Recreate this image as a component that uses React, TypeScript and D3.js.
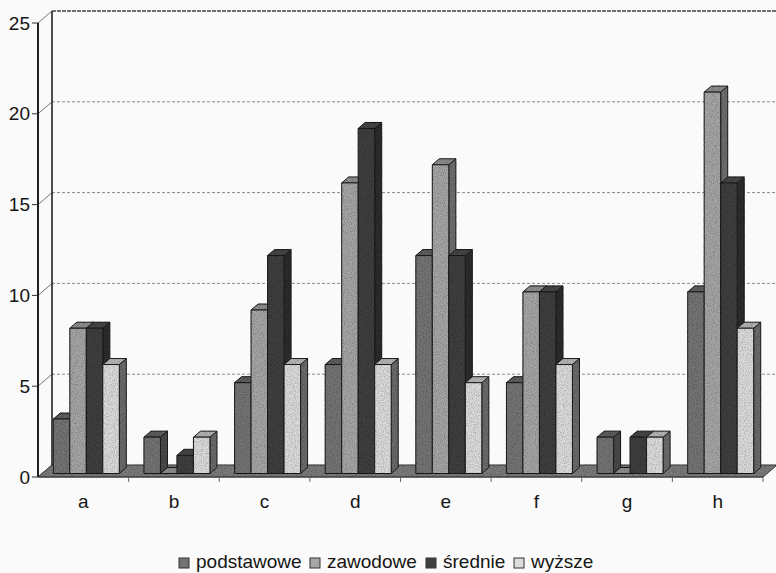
import React from 'react';
import * as d3 from 'd3';

const categories = ['a', 'b', 'c', 'd', 'e', 'f', 'g', 'h'];
const seriesNames = ['podstawowe', 'zawodowe', 'średnie', 'wyższe'];
const podstawowe = [3, 2, 5, 6, 12, 5, 2, 10];
const zawodowe = [8, 0, 9, 16, 17, 10, 0, 21];
const srednie = [8, 1, 12, 19, 12, 10, 2, 16];
const wyzsze = [6, 2, 6, 6, 5, 6, 2, 8];
const yTicks = [0, 5, 10, 15, 20, 25];

const seriesValues = [podstawowe, zawodowe, srednie, wyzsze];
const faceColors = ['#747474', '#a6a6a6', '#404040', '#dcdcdc'];
const sideColors = ['#4c4c4c', '#707070', '#2e2e2e', '#6c6c6c'];
const topColors = ['#5e5e5e', '#8e8e8e', '#474747', '#b6b6b6'];
const legendX = [179, 310, 426, 514];

const W = 776;
const H = 573;
const FONT = '"Liberation Sans", Arial, sans-serif';

export default function App() {
  const x = d3.scaleBand<string>().domain(categories).range([38, 763]).paddingInner(0).paddingOuter(0);
  const y = d3.scaleLinear().domain([0, 25]).range([477, 23]);
  const wallDx = 14, wallDy = -12;
  const barDx = 3, barDy = -3.5;
  const depthDx = 7, depthDy = -6;
  const barW = 16.5;
  const groupW = barW * seriesNames.length;
  const poly = (pts: number[][]) => pts.map((p) => p.join(',')).join(' ');

  const bars: React.ReactNode[] = [];
  categories.forEach((cat, ci) => {
    const x0 = (x(cat) as number) + (x.bandwidth() - groupW) / 2 + barDx;
    seriesValues.forEach((vals, si) => {
      const v = vals[ci];
      const xl = x0 + si * barW;
      const xr = xl + barW;
      const yb = y(0) + barDy;
      const yt = y(v) + barDy;
      bars.push(
        <g key={`${cat}-${si}`} stroke="#1e1e1e" strokeWidth={1} strokeLinejoin="round">
          <polygon points={poly([[xr, yb], [xr + depthDx, yb + depthDy], [xr + depthDx, yt + depthDy], [xr, yt]])} fill={sideColors[si]} />
          <polygon points={poly([[xl, yt], [xl + depthDx, yt + depthDy], [xr + depthDx, yt + depthDy], [xr, yt]])} fill={topColors[si]} />
          {v > 0 && <rect x={xl} y={yt} width={barW} height={yb - yt} fill={faceColors[si]} />}
        </g>
      );
    });
  });

  const xStart = 38, xEnd = 763;
  const yBack = (v: number) => y(v) + wallDy;

  return (
    <div style={{ position: 'fixed', left: 0, top: 0 }}>
      <svg width={W} height={H} style={{ display: 'block', background: '#fafafa' }} fontFamily={FONT}>
        <defs>
          <filter id="grain" filterUnits="userSpaceOnUse" x={0} y={0} width={W} height={H}>
            <feTurbulence type="fractalNoise" baseFrequency="0.9" numOctaves={2} seed={3} result="noise" />
            <feColorMatrix in="noise" type="matrix"
              values="0 0 0 0 0  0 0 0 0 0  0 0 0 0 0  1 0 0 0 -0.38" result="dots" />
            <feComposite in="dots" in2="SourceGraphic" operator="in" result="d2" />
            <feMerge>
              <feMergeNode in="SourceGraphic" />
              <feMergeNode in="d2" />
            </feMerge>
          </filter>
        </defs>
        {/* gridlines on back wall */}
        {yTicks.filter((t) => t > 0).map((t) => (
          <line key={`g${t}`} x1={xStart + wallDx} x2={W} y1={yBack(t)} y2={yBack(t)}
            stroke={t === 25 ? '#444' : '#8a8a8a'} strokeWidth={t === 25 ? 1.5 : 1} strokeDasharray={t === 25 ? '4 1' : '3 2'} />
        ))}
        {/* left wall diagonals */}
        {yTicks.map((t) => (
          <line key={`d${t}`} x1={xStart} y1={y(t)} x2={xStart + wallDx} y2={yBack(t)} stroke="#777" strokeWidth={1} />
        ))}
        {/* back wall left edge */}
        <line x1={xStart + wallDx} x2={xStart + wallDx} y1={yBack(25)} y2={yBack(0)} stroke="#222" strokeWidth={1.6} />
        <g filter="url(#grain)">
          {/* floor */}
          <polygon points={poly([[xStart, y(0)], [xStart + wallDx, yBack(0)], [xEnd + wallDx, yBack(0)], [xEnd, y(0)]])}
            fill="#7c7c7c" stroke="#3a3a3a" strokeWidth={1} />
          {bars}
        </g>
        {/* front y axis */}
        <line x1={xStart} x2={xStart} y1={y(25)} y2={y(0)} stroke="#1e1e1e" strokeWidth={2} />
        {yTicks.map((t) => (
          <g key={`t${t}`}>
            <line x1={xStart - 6} x2={xStart} y1={y(t)} y2={y(t)} stroke="#333" strokeWidth={1} />
            <text x={30} y={y(t)} dy="0.35em" textAnchor="end" fontSize={19} fill="#151515">{t}</text>
          </g>
        ))}
        {/* front x axis */}
        <line x1={xStart} x2={xEnd} y1={y(0)} y2={y(0)} stroke="#444" strokeWidth={1} />
        {categories.map((c) => (
          <line key={`xt${c}`} x1={(x(c) as number) + x.bandwidth()} x2={(x(c) as number) + x.bandwidth()} y1={y(0)} y2={y(0) + 5} stroke="#666" strokeWidth={1} />
        ))}
        {categories.map((c) => (
          <text key={`xl${c}`} x={(x(c) as number) + x.bandwidth() / 2} y={508} textAnchor="middle" fontSize={19} fill="#151515">{c}</text>
        ))}
        {/* legend */}
        {seriesNames.map((s, i) => (
          <g key={`l${s}`}>
            <rect x={legendX[i]} y={558} width={10} height={10} fill={faceColors[i]} stroke="#333" strokeWidth={1} />
            <text x={legendX[i] + 17} y={568} fontSize={19} fill="#151515">{s}</text>
          </g>
        ))}
      </svg>
    </div>
  );
}
